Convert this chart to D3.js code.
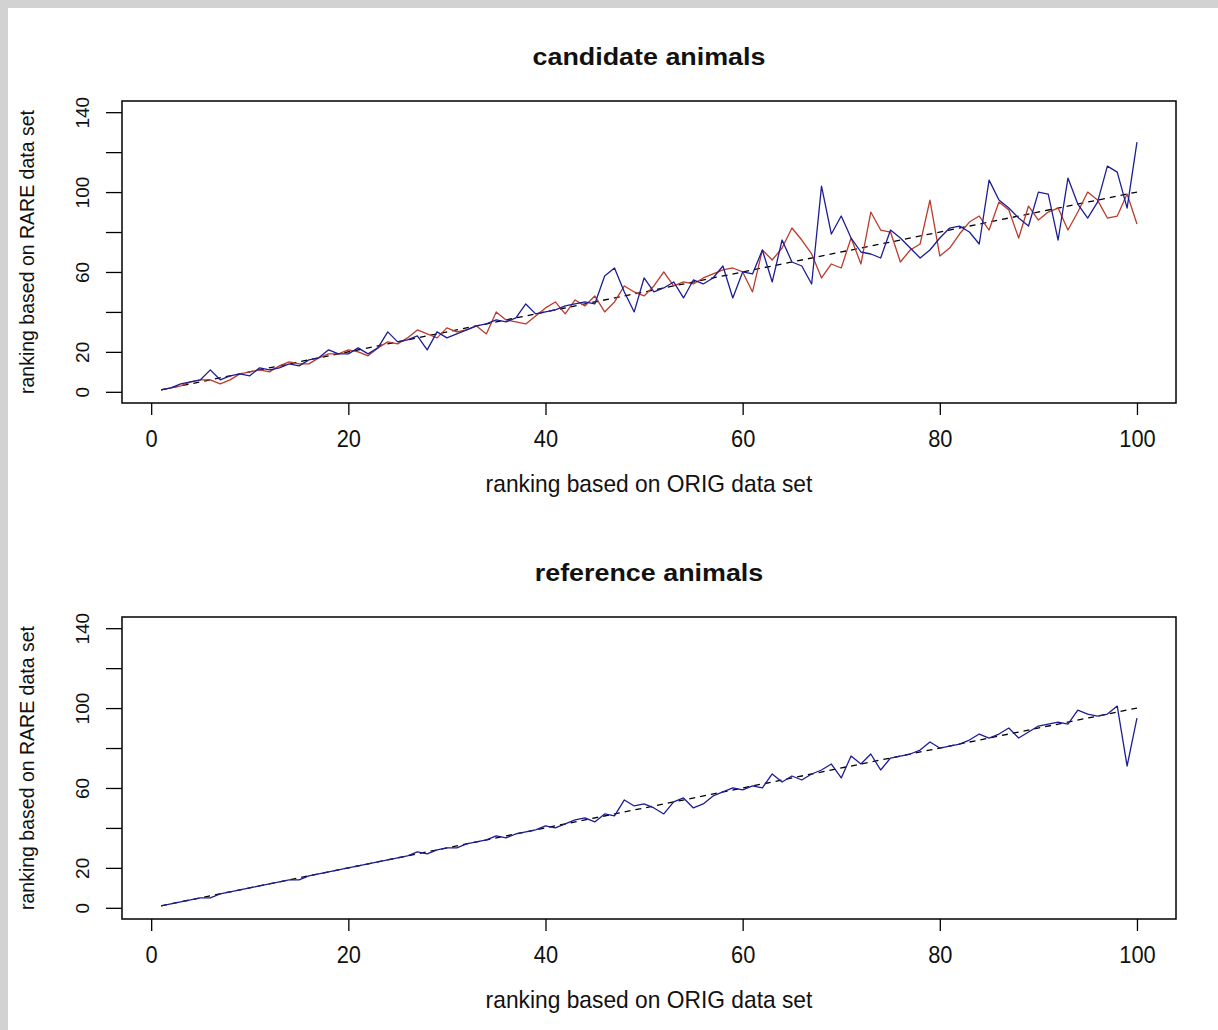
<!DOCTYPE html>
<html>
<head>
<meta charset="utf-8">
<script src="https://cdn.jsdelivr.net/npm/d3@7"></script>
<style>
  body { margin: 0; background: #d2d2d2; }
  svg { display: block; }
  text { font-family: "Liberation Sans", Arial, sans-serif; fill: #111; }
</style>
</head>
<body>
<svg id="chart" width="1218" height="1030"></svg>
<script>
// rank on RARE data set, index = rank on ORIG data set (1..100)
const candidateBlue = [
  1, 2, 4, 5, 6, 11, 6, 8, 9, 8,
  12, 11, 12, 14, 13, 16, 17, 21, 19, 19,
  22, 19, 22, 30, 25, 26, 28, 21, 30, 27,
  29, 31, 33, 34, 36, 35, 37, 44, 39, 40,
  41, 43, 44, 45, 44, 58, 62, 50, 40, 57,
  50, 52, 55, 47, 56, 54, 57, 63, 47, 60,
  59, 71, 55, 76, 65, 63, 54, 103, 79, 88,
  77, 70, 69, 67, 81, 77, 72, 67, 71, 77,
  82, 83, 80, 74, 106, 96, 92, 87, 83, 100,
  99, 76, 107, 94, 87, 95, 113, 110, 92, 125,
];
const candidateRed = [
  1, 2, 3, 5, 6, 6, 4, 6, 9, 10,
  11, 10, 13, 15, 14, 14, 17, 19, 19, 21,
  20, 18, 22, 25, 24, 27, 31, 29, 27, 32,
  30, 31, 33, 29, 40, 36, 35, 34, 38, 42,
  45, 39, 46, 43, 48, 40, 45, 53, 50, 48,
  53, 60, 53, 55, 54, 57, 59, 61, 62, 60,
  50, 71, 66, 72, 82, 76, 69, 57, 64, 62,
  77, 64, 90, 81, 80, 65, 71, 74, 96, 68,
  72, 79, 85, 88, 81, 95, 91, 77, 93, 86,
  90, 92, 81, 90, 100, 96, 87, 88, 99, 84,
];
const referenceBlue = [
  1, 2, 3, 4, 5, 5, 7, 8, 9, 10,
  11, 12, 13, 14, 14, 16, 17, 18, 19, 20,
  21, 22, 23, 24, 25, 26, 28, 27, 29, 30,
  30, 32, 33, 34, 36, 35, 37, 38, 39, 41,
  40, 42, 44, 45, 43, 47, 46, 54, 51, 52,
  50, 47, 53, 55, 50, 52, 56, 58, 60, 59,
  61, 60, 67, 63, 66, 64, 67, 69, 72, 65,
  76, 72, 77, 69, 75, 76, 77, 79, 83, 80,
  81, 82, 84, 87, 85, 87, 90, 85, 88, 91,
  92, 93, 92, 99, 97, 96, 97, 101, 71, 95,
];
// dashed identity line end points
const diagX = [1, 100];
const diagY = [1, 100];

const xTicks = [0, 20, 40, 60, 80, 100];
const yTicks = [0, 20, 40, 60, 80, 100, 120, 140];
const yTickLabels = [0, 20, 60, 100, 140];
const panelTitles = ['candidate animals', 'reference animals'];
const xLabel = 'ranking based on ORIG data set';
const yLabel = 'ranking based on RARE data set';

const svg = d3.select('#chart');
// the source image has narrow, tall horizontal text
const narrow = 'scale(0.95,1)';

svg.append('rect')
  .attr('x', 8).attr('y', 8)
  .attr('width', 1210).attr('height', 1022)
  .attr('fill', '#fff');

const box = { left: 122, right: 1176, height: 302 };
const x = d3.scaleLinear().domain([-2.96, 103.96]).range([box.left, box.right]);

function drawPanel(top, title, series) {
  const bottom = top + box.height;
  const y = d3.scaleLinear().domain([-5.6, 145.6]).range([bottom, top]);
  const g = svg.append('g');

  const line = d3.line()
    .x((d, i) => x(i + 1))
    .y((d) => y(d));

  g.append('path')
    .attr('d', d3.line().x((d) => x(d[0])).y((d) => y(d[1]))(d3.zip(diagX, diagY)))
    .attr('fill', 'none')
    .attr('stroke', '#000')
    .attr('stroke-width', 1.3)
    .attr('stroke-dasharray', '6,5');

  series.forEach(({ values, color }) => {
    g.append('path')
      .attr('d', line(values))
      .attr('fill', 'none')
      .attr('stroke', color)
      .attr('stroke-width', 1.3)
      .attr('stroke-linejoin', 'round');
  });

  // box
  g.append('rect')
    .attr('x', box.left).attr('y', top)
    .attr('width', box.right - box.left).attr('height', box.height)
    .attr('fill', 'none')
    .attr('stroke', '#000')
    .attr('stroke-width', 1.5);

  // x axis
  const xa = g.append('g')
    .attr('transform', `translate(0,${bottom})`)
    .call(d3.axisBottom(x).tickValues(xTicks).tickSize(12).tickFormat(d3.format('d')));
  xa.select('.domain').remove();
  xa.selectAll('line').attr('stroke', '#000').attr('stroke-width', 1.3);
  xa.selectAll('text')
    .attr('y', null).attr('dy', null)
    .attr('transform', `translate(0,44) ${narrow}`)
    .style('font-size', '23px')
    .attr('fill', '#111');

  // y axis
  const ya = g.append('g')
    .attr('transform', `translate(${box.left},0)`)
    .call(d3.axisLeft(y).tickValues(yTicks).tickSize(16)
      .tickFormat((d) => (yTickLabels.includes(d) ? d : '')));
  ya.select('.domain').remove();
  ya.selectAll('line').attr('stroke', '#000').attr('stroke-width', 1.3);
  ya.selectAll('text')
    .attr('x', null).attr('dy', null)
    .attr('text-anchor', 'middle')
    .attr('transform', 'translate(-33,0) rotate(-90)')
    .style('font-size', '19px')
    .attr('fill', '#111');

  // labels
  g.append('text')
    .attr('transform', `translate(${(box.left + box.right) / 2},${top - 36}) scale(1.12,1)`)
    .attr('text-anchor', 'middle')
    .style('font-size', '24px')
    .style('font-weight', 'bold')
    .text(title);

  g.append('text')
    .attr('transform', `translate(${(box.left + box.right) / 2},${bottom + 89}) ${narrow}`)
    .attr('text-anchor', 'middle')
    .style('font-size', '24px')
    .text(xLabel);

  g.append('text')
    .attr('transform', `translate(34,${top + box.height / 2}) rotate(-90)`)
    .attr('text-anchor', 'middle')
    .style('font-size', '19.5px')
    .text(yLabel);
}

const blue = '#1d1d96';
const red = '#bb3b2c';

drawPanel(101, panelTitles[0], [
  { values: candidateRed, color: red },
  { values: candidateBlue, color: blue },
]);
drawPanel(617, panelTitles[1], [
  { values: referenceBlue, color: blue },
]);
</script>
</body>
</html>
